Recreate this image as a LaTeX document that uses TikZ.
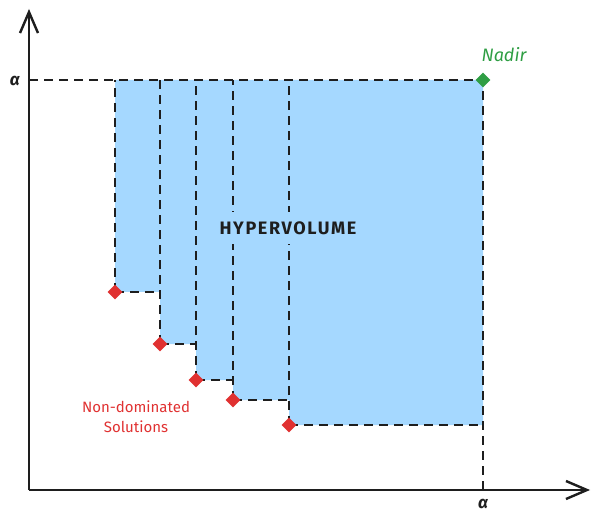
\documentclass[tikz,border=0pt]{standalone}
\usepackage{fontspec}
\setmainfont{Fira Sans}
\usetikzlibrary{arrows.meta,shapes.geometric}
\definecolor{hvblue}{HTML}{A5D8FF}
\definecolor{ptred}{HTML}{E03131}
\definecolor{ndgreen}{HTML}{2F9E44}
\definecolor{ink}{HTML}{1E1E1E}
\begin{document}
\begin{tikzpicture}[x=1pt,y=-1pt,
  axis/.style={draw=ink,line width=2.4pt,-{Straight Barb[length=21pt,width=18pt,line width=2.4pt]}},
  guide/.style={draw=ink,line width=2.2pt,dash pattern=on 9pt off 6pt},
  ndpt/.style={diamond,fill=ptred,inner sep=0pt,minimum size=15pt},
  nadirpt/.style={diamond,fill=ndgreen,inner sep=0pt,minimum size=15pt},
  alphalbl/.style={text=ink,font=\fontsize{17}{20}\selectfont\bfseries\itshape,inner sep=0pt},
]
\useasboundingbox (0,0) rectangle (599,526);
% key coordinates
\coordinate (O) at (29,490);
\coordinate (ytop) at (29,9);
\coordinate (xend) at (590,490);
\coordinate (ya) at (29,80);
\coordinate (xa) at (483,490);
% hypervolume region
\fill[hvblue] (115,80) -- (483,80) -- (483,425) -- (289,425) -- (289,400) -- (233,400)
  -- (233,380) -- (196,380) -- (196,344) -- (160,344) -- (160,292) -- (115,292) -- cycle;
% points (coordinates first)
\coordinate (c1) at (115,292);
\coordinate (c2) at (160,344);
\coordinate (c3) at (196,380);
\coordinate (c4) at (233,400);
\coordinate (c5) at (289,425);
\coordinate (cn) at (483,80);
% guides
\draw[guide] (ya) -- (cn) -- (xa);
\draw[guide] (c1) -- (c1 |- ya);
\draw[guide] (c2) -- (c2 |- ya);
\draw[guide] (c3) -- (c3 |- ya);
\draw[guide] (c4) -- (c4 |- ya);
\draw[guide] (c5) -- (c5 |- ya);
\draw[guide] (c1) -- (c1 -| c2);
\draw[guide] (c2) -- (c2 -| c3);
\draw[guide] (c3) -- (c3 -| c4);
\draw[guide] (c4) -- (c4 -| c5);
\draw[guide] (c5) -- (c5 -| cn);
% axes
\draw[axis] (O) -- (ytop);
\draw[axis] (O) -- (xend);
% markers
\node[ndpt] (p1) at (c1) {};
\node[ndpt] (p2) at (c2) {};
\node[ndpt] (p3) at (c3) {};
\node[ndpt] (p4) at (c4) {};
\node[ndpt] (p5) at (c5) {};
\node[nadirpt] (nadir) at (cn) {};
% labels
\node[alphalbl] (aly) at (15,81) {α};
\node[alphalbl] (alx) at (483,504) {α};
\node[text=ndgreen,font=\fontsize{18}{20}\selectfont\itshape] (nadirlbl) at (504,55) {Nadir};
\node[fill=hvblue,inner xsep=2pt,inner ysep=9pt,text=ink,font=\fontsize{18}{21}\selectfont\bfseries\addfontfeatures{LetterSpace=9}] (hv) at (288,228) {HYPERVOLUME};
\node[text=ptred,font=\fontsize{15}{20}\selectfont,align=center] (ndlbl) at (136,417) {Non-dominated\\Solutions};
\end{tikzpicture}
\end{document}
